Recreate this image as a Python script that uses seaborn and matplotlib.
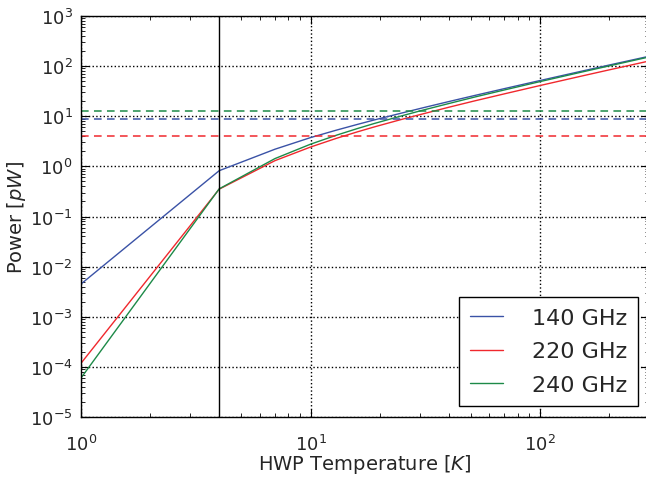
import numpy as np
import pandas as pd
import matplotlib
matplotlib.use("Agg")
import matplotlib.pyplot as plt
import seaborn as sns

# ---- data ----
temperature = [1, 4, 7, 10, 13, 16, 19, 25, 31, 40, 52, 70, 100, 151, 199, 300]
power_140 = [4.5e-3, 0.82, 2.2, 3.75, 5.3, 6.87, 8.46, 11.6, 14.8, 19.6, 26.0, 35.6, 51.6, 78.8, 104.5, 158]
power_220 = [1.18e-4, 0.351, 1.30, 2.43, 3.64, 4.88, 6.14, 8.68, 11.2, 15.1, 20.3, 28.0, 41.0, 63.0, 83.7, 127]
power_240 = [6.0e-5, 0.356, 1.43, 2.77, 4.20, 5.68, 7.19, 10.2, 13.3, 17.9, 24.2, 33.5, 49.1, 75.6, 100.5, 153]
labels = ["140 GHz", "220 GHz", "240 GHz"]
limits = [9.0, 4.0, 13.0]          # dashed horizontal levels
t_vertical = 4
colors = ["#3a52a6", "#f0282d", "#1d8a48"]

df = pd.concat([
    pd.DataFrame({"T": temperature, "P": p, "band": lab})
    for p, lab in zip([power_140, power_220, power_240], labels)
])

sns.set_style("ticks")
plt.rcParams["axes.unicode_minus"] = False
plt.rcParams["font.family"] = ["DejaVu Sans"]
plt.rcParams["mathtext.fontset"] = "dejavusans"

fig = plt.figure(figsize=(6.46, 4.81), dpi=100)
ax = fig.add_axes([81 / 646, 1 - 418 / 481, (649.5 - 81) / 646, (418 - 17) / 481])

for lab, col in zip(labels, colors):
    sub = df[df["band"] == lab]
    sns.lineplot(data=sub, x="T", y="P", color=col, lw=1.0, label=lab, ax=ax)

for lev, col in zip(limits, colors):
    ax.axhline(lev, color=col, lw=1.1, ls=(0, (5, 3.5)))
ax.axvline(t_vertical, color="black", lw=1.0)

ax.set_xscale("log")
ax.set_yscale("log")
ax.set_xlim(1, 300)
ax.set_ylim(1e-5, 1e3)

ax.grid(True, which="major", color="black", ls=":", lw=1.0)
for s in ax.spines.values():
    s.set_color("black")
    s.set_linewidth(1.0)
ax.tick_params(which="both", direction="in", top=True, right=True, colors="black")
ax.tick_params(which="major", length=6, labelsize=13)
ax.tick_params(axis="x", which="major", pad=12)
ax.tick_params(axis="y", which="major", pad=6)
ax.tick_params(which="minor", length=3)
for t in ax.get_xticklabels() + ax.get_yticklabels():
    t.set_color("#262626")

ax.set_xlabel("HWP Temperature [$K$]", fontsize=14, color="#262626", labelpad=-1)
ax.set_ylabel("Power [$pW$]", fontsize=14, color="#262626", labelpad=1)

leg = ax.legend(loc="lower right", fontsize=16, frameon=True, fancybox=False,
                edgecolor="black", handlelength=1.5, handletextpad=1.3,
                borderpad=0.5, labelspacing=0.6)
leg.get_frame().set_linewidth(1.0)
leg.get_frame().set_alpha(1)
for t in leg.get_texts():
    t.set_color("#262626")

fig.savefig("out.png", dpi=100)
